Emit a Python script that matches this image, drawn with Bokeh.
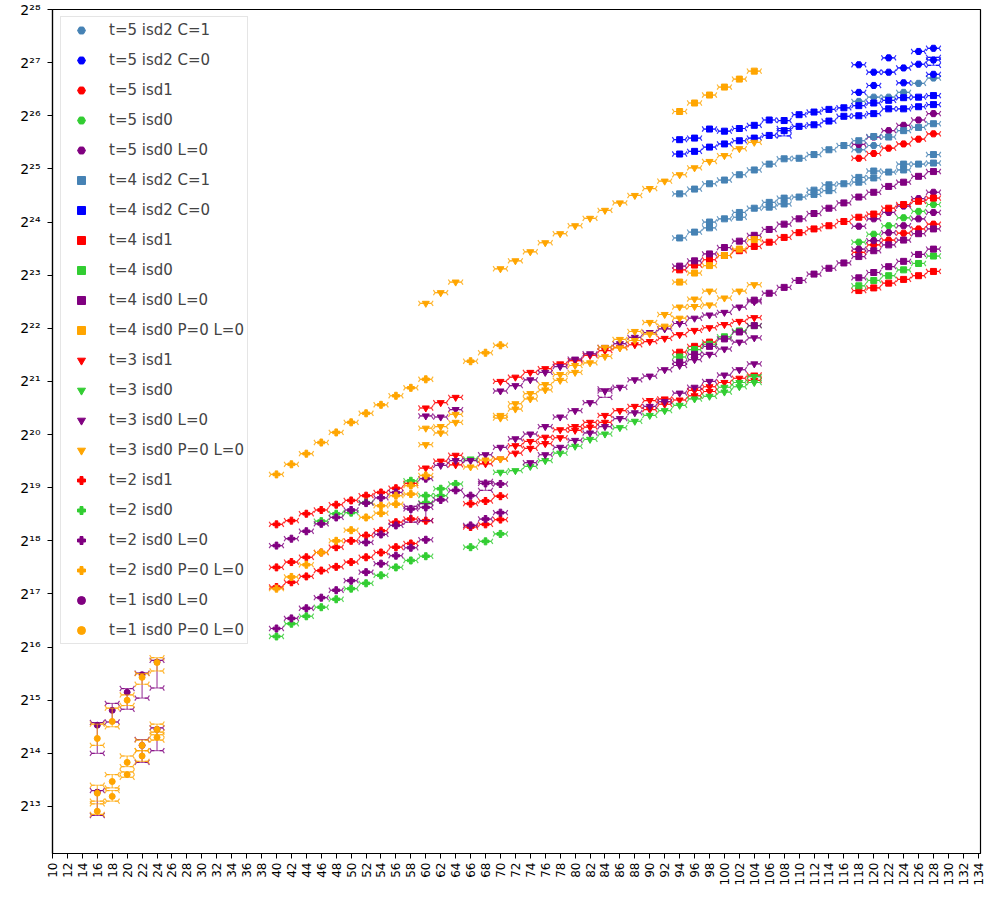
import math
from bokeh.plotting import figure
from bokeh.models import (Range1d, FixedTicker, CustomJSTickFormatter, ColumnDataSource,
                          Legend, LegendItem)
from bokeh.transform import dodge
from bokeh.embed import file_html
from bokeh.resources import INLINE

# ---------------- data (values are log2 of the plotted quantity) ----------------
X94 = [94, 96, 98, 100, 102, 104, 106, 108, 110, 112, 114, 116, 118, 120, 122, 124, 126, 128]
X118 = [118, 120, 122, 124, 126, 128]
X40 = [40, 42, 44, 46, 48, 50, 52, 54, 56, 58, 60]

t5_c1_x = [118, 120, 122, 124, 126, 128, 118, 120]
t5_c1_e = [26.27, 26.35, 26.35, 26.44, 26.61, 26.71, 25.36, 25.44]

t5_c0_x = [118, 118, 120, 120, 122, 122, 124, 124, 126, 126, 128, 128, 128]
t5_c0_e = [26.96, 26.44, 26.82, 26.57, 27.09, 26.82, 26.90, 26.62, 27.21, 26.97, 27.27, 27.05, 26.78]

t5_isd1_x = [118, 120, 122, 124, 126, 128, 118, 120, 122, 124, 126, 128]
t5_isd1_e = [25.20, 25.29, 25.39, 25.47, 25.56, 25.66, 23.43, 23.57, 23.66, 23.79, 23.87, 23.96]

t5_isd0_x = [118, 120, 122, 124, 126, 128]
t5_isd0_e = [23.62, 23.77, 23.93, 24.08, 24.20, 24.33]

t5_l0_x = [118, 120, 122, 124, 126, 128, 118, 120, 122, 124, 126, 128, 118, 120, 122, 124, 126, 128]
t5_l0_e = [25.46, 25.60, 25.72, 25.82, 25.92, 26.04, 23.92, 24.06, 24.18, 24.30, 24.44, 24.56,
           23.49, 23.65, 23.80, 23.93, 24.06, 24.18]

t4_c1_x = [94, 96, 98, 98, 100, 102, 102, 104, 106, 106, 108, 108, 110, 112, 112, 114, 114, 116,
           118, 118, 120, 120, 122, 124, 124, 126, 128, 128] + X94
t4_c1_e = [23.70, 23.81, 24.00, 23.89, 24.06, 24.18, 24.09, 24.26, 24.37, 24.28, 24.45, 24.34, 24.47,
           24.60, 24.52, 24.70, 24.59, 24.72, 24.84, 24.75, 24.96, 24.83, 24.94, 25.09, 24.98, 25.09,
           25.27, 25.11,
           24.53, 24.62, 24.72, 24.79, 24.89, 24.98, 25.09, 25.19, 25.20, 25.27, 25.36, 25.44, 25.53,
           25.61, 25.60, 25.72, 25.78, 25.85]

t4_c0_x = X94 + X94
t4_c0_e = [25.28, 25.33, 25.41, 25.47, 25.53, 25.58, 25.63, 25.72, 25.80, 25.83, 25.90, 25.99, 26.00,
           26.04, 26.13, 26.13, 26.17, 26.21,
           25.55, 25.58, 25.75, 25.71, 25.76, 25.82, 25.92, 25.91, 26.02, 26.07, 26.12, 26.15, 26.19,
           26.24, 26.29, 26.34, 26.35, 26.38]

t4_isd1_x = X94 + [94, 96, 98] + X118
t4_isd1_e = [23.10, 23.19, 23.29, 23.37, 23.46, 23.54, 23.62, 23.71, 23.80, 23.87, 23.93, 24.01, 24.09,
             24.15, 24.26, 24.33, 24.39, 24.45,
             21.55, 21.66, 21.74,
             22.71, 22.76, 22.85, 22.92, 22.99, 23.07]

t4_isd0_x = [94, 96, 98, 100, 102, 104] + X118
t4_isd0_e = [21.46, 21.60, 21.70, 21.84, 21.95, 22.05, 22.80, 22.90, 22.99, 23.10, 23.22, 23.36]

t4_l0_x = X94 + [104, 106, 108, 110, 112, 114, 116, 118, 120, 122, 124, 126, 128] + \
          [94, 96, 98, 100, 102, 104] + X118
t4_l0_e = [23.17, 23.27, 23.40, 23.52, 23.64, 23.75, 23.86, 23.96, 24.06, 24.16, 24.26, 24.36, 24.47,
           24.56, 24.67, 24.75, 24.86, 24.95,
           22.53, 22.66, 22.77, 22.90, 23.02, 23.13, 23.23, 23.35, 23.46, 23.57, 23.66, 23.78, 23.87,
           21.36, 21.51, 21.66, 21.80, 21.93, 22.05,
           22.95, 23.05, 23.16, 23.26, 23.39, 23.49]

t4_p0_x = [94, 96, 98, 100, 102, 104, 94, 96, 98, 100, 102, 104]
t4_p0_e = [26.08, 26.24, 26.39, 26.54, 26.69, 26.84, 22.87, 23.04, 23.18, 23.37, 23.49, 23.67]

T3_HI_X = [60, 62, 64, 70, 72, 74, 76, 78, 80, 82, 84, 86, 88, 90, 92, 94, 96, 98, 100, 102, 104]
T3_MID_X = [70, 72, 74, 76, 78, 80, 82, 84, 86, 88, 90, 92, 94, 96, 98, 100, 102, 104]

t3_isd1_x = T3_HI_X + [60, 62, 64, 64, 68, 70, 72, 72, 74, 74, 76, 76, 78, 78, 80, 80, 82, 82, 84, 84,
                       86, 88, 90, 90, 92, 92, 94, 96, 96, 98, 98, 100, 102, 104, 104]
t3_isd1_e = [20.50, 20.60, 20.70, 21.00, 21.08, 21.17, 21.24, 21.33, 21.39, 21.49, 21.58, 21.64, 21.69,
             21.75, 21.81, 21.88, 21.96, 22.01, 22.07, 22.13, 22.20,
             19.37, 19.50, 19.61, 19.43, 19.45, 19.54, 19.79, 19.65, 19.87, 19.74, 19.95, 19.83, 20.09,
             19.94, 20.15, 20.08, 20.23, 20.14, 20.36, 20.23, 20.45, 20.53, 20.64, 20.47, 20.67, 20.57,
             20.65, 20.83, 20.73, 20.90, 20.81, 20.98, 21.06, 21.12, 21.02]

t3_isd0_x = [66, 70, 72, 74, 76, 78, 80, 82, 84, 86, 88, 90, 92, 94, 96, 98, 100, 100, 102, 102, 104, 104]
t3_isd0_e = [19.54, 19.29, 19.32, 19.40, 19.51, 19.65, 19.78, 19.91, 20.01, 20.13, 20.25, 20.36, 20.45,
             20.55, 20.67, 20.72, 20.80, 20.89, 20.90, 20.98, 20.98, 21.09]

t3_l0_x = T3_HI_X + T3_MID_X + [62, 64, 66, 68, 74, 76, 78, 80, 82, 84, 86, 88, 90, 92, 94, 96, 98,
                                100, 102, 104]
t3_l0_e = [20.35, 20.33, 20.47, 20.82, 20.92, 21.03, 21.17, 21.28, 21.42, 21.52, 21.64, 21.71, 21.83,
           21.92, 21.99, 22.09, 22.19, 22.25, 22.30, 22.40, 22.50,
           19.76, 19.92, 20.01, 20.15, 20.33, 20.45, 20.60, 20.82, 20.89, 21.03, 21.10, 21.22, 21.30,
           21.41, 21.51, 21.61, 21.74, 21.82,
           19.42, 19.51, 19.51, 19.62, 19.47, 19.62, 19.76, 19.89, 20.03, 20.15, 20.30, 20.41, 20.53,
           20.62, 20.78, 20.89, 21.00, 21.12, 21.22, 21.33]

t3_p0_x = T3_HI_X + [60, 60, 62, 62, 64, 64, 70, 70, 72, 72, 74, 74, 76, 76, 78, 78, 80, 80, 82, 84, 84,
                     86, 86, 88, 88, 90, 90, 92, 92, 94, 94, 96, 96, 98, 98, 100, 102, 104] + [66, 68, 70]
t3_p0_e = [22.47, 22.67, 22.87, 23.12, 23.27, 23.44, 23.61, 23.78, 23.93, 24.07, 24.22, 24.36, 24.50,
           24.63, 24.77, 24.89, 25.02, 25.14, 25.25, 25.38, 25.50,
           20.12, 19.81, 20.15, 20.03, 20.38, 20.23, 20.36, 20.31, 20.58, 20.48, 20.77, 20.67, 20.94,
           20.84, 21.13, 21.02, 21.30, 21.17, 21.35, 21.64, 21.47, 21.79, 21.63, 21.94, 21.77, 22.11,
           21.89, 22.26, 22.04, 22.40, 22.19, 22.55, 22.41, 22.70, 22.44, 22.57, 22.70, 22.82,
           19.39, 19.52, 19.54]

X40_58 = [40, 42, 44, 46, 48, 50, 52, 54, 56, 58]
t2_isd1_x = X40_58 + X40_58 + X40_58 + [60, 66, 68, 70, 66, 68, 70]
t2_isd1_e = [18.31, 18.38, 18.51, 18.58, 18.68, 18.76, 18.85, 18.91, 18.99, 19.08,
             17.50, 17.60, 17.69, 17.78, 17.88, 18.00, 18.10, 18.19, 18.35, 18.41,
             17.13, 17.22, 17.33, 17.44, 17.51, 17.60, 17.69, 17.78, 17.88, 17.95,
             18.38, 18.70, 18.75, 18.84, 18.26, 18.31, 18.40]

t2_isd0_x = X40 + [46, 48, 50, 52, 58, 60, 60, 62, 62, 64] + [66, 68, 70]
t2_isd0_e = [16.20, 16.44, 16.58, 16.75, 16.90, 17.10, 17.20, 17.35, 17.50, 17.63, 17.71,
             18.37, 18.51, 18.53, 18.72, 19.13, 18.85, 18.72, 18.98, 18.85, 19.07,
             17.88, 17.99, 18.13]

t2_l0_x = X40 + X40 + [52, 54, 56, 60] + [62, 64, 66, 66, 68, 68, 70, 70]
t2_l0_e = [17.91, 18.04, 18.18, 18.32, 18.44, 18.58, 18.71, 18.81, 18.91, 18.60, 19.17,
           16.35, 16.54, 16.73, 16.93, 17.07, 17.25, 17.41, 17.57, 17.72, 17.87, 18.02,
           17.97, 18.12, 18.29, 18.63,
           18.77, 18.95, 18.85, 18.29, 19.08, 18.41, 19.07, 18.53]

t2_p0_x = X40 + [66, 68, 70] + [40, 42, 44, 46, 48, 50, 52, 54, 54, 56, 56, 58, 58, 60]
t2_p0_e = [19.25, 19.44, 19.64, 19.85, 20.04, 20.23, 20.40, 20.56, 20.73, 20.88, 21.04,
           21.38, 21.54, 21.68,
           17.10, 17.32, 17.55, 17.78, 18.00, 18.20, 18.44, 18.66, 18.52, 18.85, 18.69, 19.04,
           18.88, 19.23]

t1_l0_x = [16, 18, 20, 22, 24, 16, 22, 24]
t1_l0_e = [14.53, 14.81, 15.15, 15.48, 15.72, 13.27, 14.15, 14.45]
t1_l0_lo = [14.00, 14.59, 14.83, 15.04, 15.23, 12.83, 13.83, 14.05]
t1_l0_hi = [14.58, 14.94, 15.22, 15.51, 15.75, 13.30, 14.26, 14.48]

t1_p0_x = [16, 18, 20, 22, 24, 16, 16, 18, 18, 20, 20, 22, 22, 24, 24]
t1_p0_e = [14.28, 14.60, 15.00, 15.43, 15.71, 13.25, 12.91, 13.47, 13.19, 13.83, 13.60, 14.15, 13.95,
           14.45, 14.30]
t1_p0_lo = [14.15, 14.50, 14.90, 15.30, 15.55, 13.10, 12.85, 13.35, 13.10, 13.75, 13.55, 14.05, 13.85,
            14.35, 14.25]
t1_p0_hi = [14.55, 14.85, 15.10, 15.50, 15.80, 13.40, 13.05, 13.60, 13.30, 13.95, 13.65, 14.25, 14.05,
            14.55, 14.40]

# a few extra visible error bars (series, x, lo, hi)
bar_name = ["t=2 isd0 L=0", "t=2 isd0 L=0", "t=2 isd0 L=0", "t=3 isd0 L=0", "t=5 isd2 C=0", "t=4 isd2 C=0"]
bar_x = [58, 60, 68, 84, 128, 108]
bar_lo = [18.35, 18.38, 18.95, 20.70, 26.95, 25.62]
bar_hi = [18.65, 18.70, 19.12, 20.86, 27.10, 25.76]

y_tick_exp = list(range(13, 29))
x_ticks = list(range(10, 135, 2))

SERIES = [
    ("t=5 isd2 C=1", "#4682b4", "hex", t5_c1_x, t5_c1_e),
    ("t=5 isd2 C=0", "#0000ff", "hex", t5_c0_x, t5_c0_e),
    ("t=5 isd1", "#ff0000", "hex", t5_isd1_x, t5_isd1_e),
    ("t=5 isd0", "#32cd32", "hex", t5_isd0_x, t5_isd0_e),
    ("t=5 isd0 L=0", "#800080", "hex", t5_l0_x, t5_l0_e),
    ("t=4 isd2 C=1", "#4682b4", "square", t4_c1_x, t4_c1_e),
    ("t=4 isd2 C=0", "#0000ff", "square", t4_c0_x, t4_c0_e),
    ("t=4 isd1", "#ff0000", "square", t4_isd1_x, t4_isd1_e),
    ("t=4 isd0", "#32cd32", "square", t4_isd0_x, t4_isd0_e),
    ("t=4 isd0 L=0", "#800080", "square", t4_l0_x, t4_l0_e),
    ("t=4 isd0 P=0 L=0", "#ffa500", "square", t4_p0_x, t4_p0_e),
    ("t=3 isd1", "#ff0000", "inverted_triangle", t3_isd1_x, t3_isd1_e),
    ("t=3 isd0", "#32cd32", "inverted_triangle", t3_isd0_x, t3_isd0_e),
    ("t=3 isd0 L=0", "#800080", "inverted_triangle", t3_l0_x, t3_l0_e),
    ("t=3 isd0 P=0 L=0", "#ffa500", "inverted_triangle", t3_p0_x, t3_p0_e),
    ("t=2 isd1", "#ff0000", "plus", t2_isd1_x, t2_isd1_e),
    ("t=2 isd0", "#32cd32", "plus", t2_isd0_x, t2_isd0_e),
    ("t=2 isd0 L=0", "#800080", "plus", t2_l0_x, t2_l0_e),
    ("t=2 isd0 P=0 L=0", "#ffa500", "plus", t2_p0_x, t2_p0_e),
    ("t=1 isd0 L=0", "#800080", "circle", t1_l0_x, t1_l0_e),
    ("t=1 isd0 P=0 L=0", "#ffa500", "circle", t1_p0_x, t1_p0_e),
]
LOHI = {"t=1 isd0 L=0": (t1_l0_lo, t1_l0_hi), "t=1 isd0 P=0 L=0": (t1_p0_lo, t1_p0_hi)}
MSIZE = {"hex": 7, "square": 6, "inverted_triangle": 7, "plus": 7, "circle": 6}

FONT = "DejaVu Sans"

p = figure(width=986, height=898, x_range=Range1d(10, 134.3),
           y_range=Range1d(2 ** 12.115, 2 ** 28), y_axis_type="log",
           output_backend="svg", toolbar_location=None,
           min_border_left=52, min_border_right=6, min_border_top=9, min_border_bottom=45)
p.xgrid.visible = False
p.ygrid.visible = False
p.outline_line_color = "black"
p.outline_line_width = 1.2
p.background_fill_color = "white"

p.xaxis.ticker = FixedTicker(ticks=x_ticks)
p.yaxis.ticker = FixedTicker(ticks=[2 ** k for k in y_tick_exp])
p.yaxis.formatter = CustomJSTickFormatter(code="""
const s = {'0':'\u2070','1':'\u00b9','2':'\u00b2','3':'\u00b3','4':'\u2074','5':'\u2075','6':'\u2076','7':'\u2077','8':'\u2078','9':'\u2079'};
const k = Math.round(Math.log2(tick));
return '2' + String(k).split('').map(c => s[c]).join('');
""")
p.xaxis.major_label_orientation = math.pi / 2
for ax in (p.xaxis, p.yaxis):
    ax.minor_tick_line_color = None
    ax.major_tick_in = 0
    ax.major_tick_out = 5
    ax.major_tick_line_color = "black"
    ax.axis_line_color = "black"
    ax.axis_line_width = 1.2
    ax.major_label_text_font = FONT
    ax.major_label_text_color = "black"
p.xaxis.major_label_text_font_size = "12px"
p.yaxis.major_label_text_font_size = "14px"
p.xaxis.major_label_standoff = 4
p.yaxis.major_label_standoff = 7

items = []
for name, color, marker, xs, es in SERIES:
    lo, hi = LOHI.get(name, (es, es))
    seg_x, seg_lo, seg_hi = [], [], []
    cap_x, cap_y = [], []
    for x, l, h in zip(xs, lo, hi):
        if abs(h - l) > 1e-9:
            seg_x.append(x); seg_lo.append(2 ** l); seg_hi.append(2 ** h)
            cap_x += [x, x]; cap_y += [2 ** l, 2 ** h]
        else:
            cap_x.append(x); cap_y.append(2 ** l)
    for bn, bx, bl, bh in zip(bar_name, bar_x, bar_lo, bar_hi):
        if bn == name:
            seg_x.append(bx); seg_lo.append(2 ** bl); seg_hi.append(2 ** bh)
            cap_x += [bx, bx]; cap_y += [2 ** bl, 2 ** bh]
    if seg_x:
        p.segment(x0=seg_x, y0=seg_lo, x1=seg_x, y1=seg_hi, line_color=color,
                  line_width=1.2, line_alpha=0.7)
    csrc = ColumnDataSource(dict(x=cap_x, y=cap_y))
    p.scatter(x="x", y="y", source=csrc, marker="dash", size=11, line_color=color,
              line_width=1, line_alpha=0.7)
    p.scatter(x=dodge("x", -0.75), y="y", source=csrc, marker="y", size=6,
              angle=math.pi / 2, line_color=color, line_width=1.2, line_alpha=0.8)
    p.scatter(x=dodge("x", 0.75), y="y", source=csrc, marker="y", size=6,
              angle=-math.pi / 2, line_color=color, line_width=1.2, line_alpha=0.8)
    msrc = ColumnDataSource(dict(x=xs, y=[2 ** e for e in es]))
    r = p.scatter(x="x", y="y", source=msrc, marker=marker, size=MSIZE[marker],
                  fill_color=color, line_color=color)
    items.append(LegendItem(label=name, renderers=[r]))

legend = Legend(items=items, location=(8, 209), margin=0, padding=3, spacing=10,
                glyph_width=34, glyph_height=20, label_height=20, label_standoff=11,
                label_text_font=FONT, label_text_font_size="15px",
                border_line_color="#cccccc", border_line_width=1,
                background_fill_color="white", background_fill_alpha=0.85)
p.add_layout(legend)

open("out.html", "w").write(file_html(p, INLINE))
